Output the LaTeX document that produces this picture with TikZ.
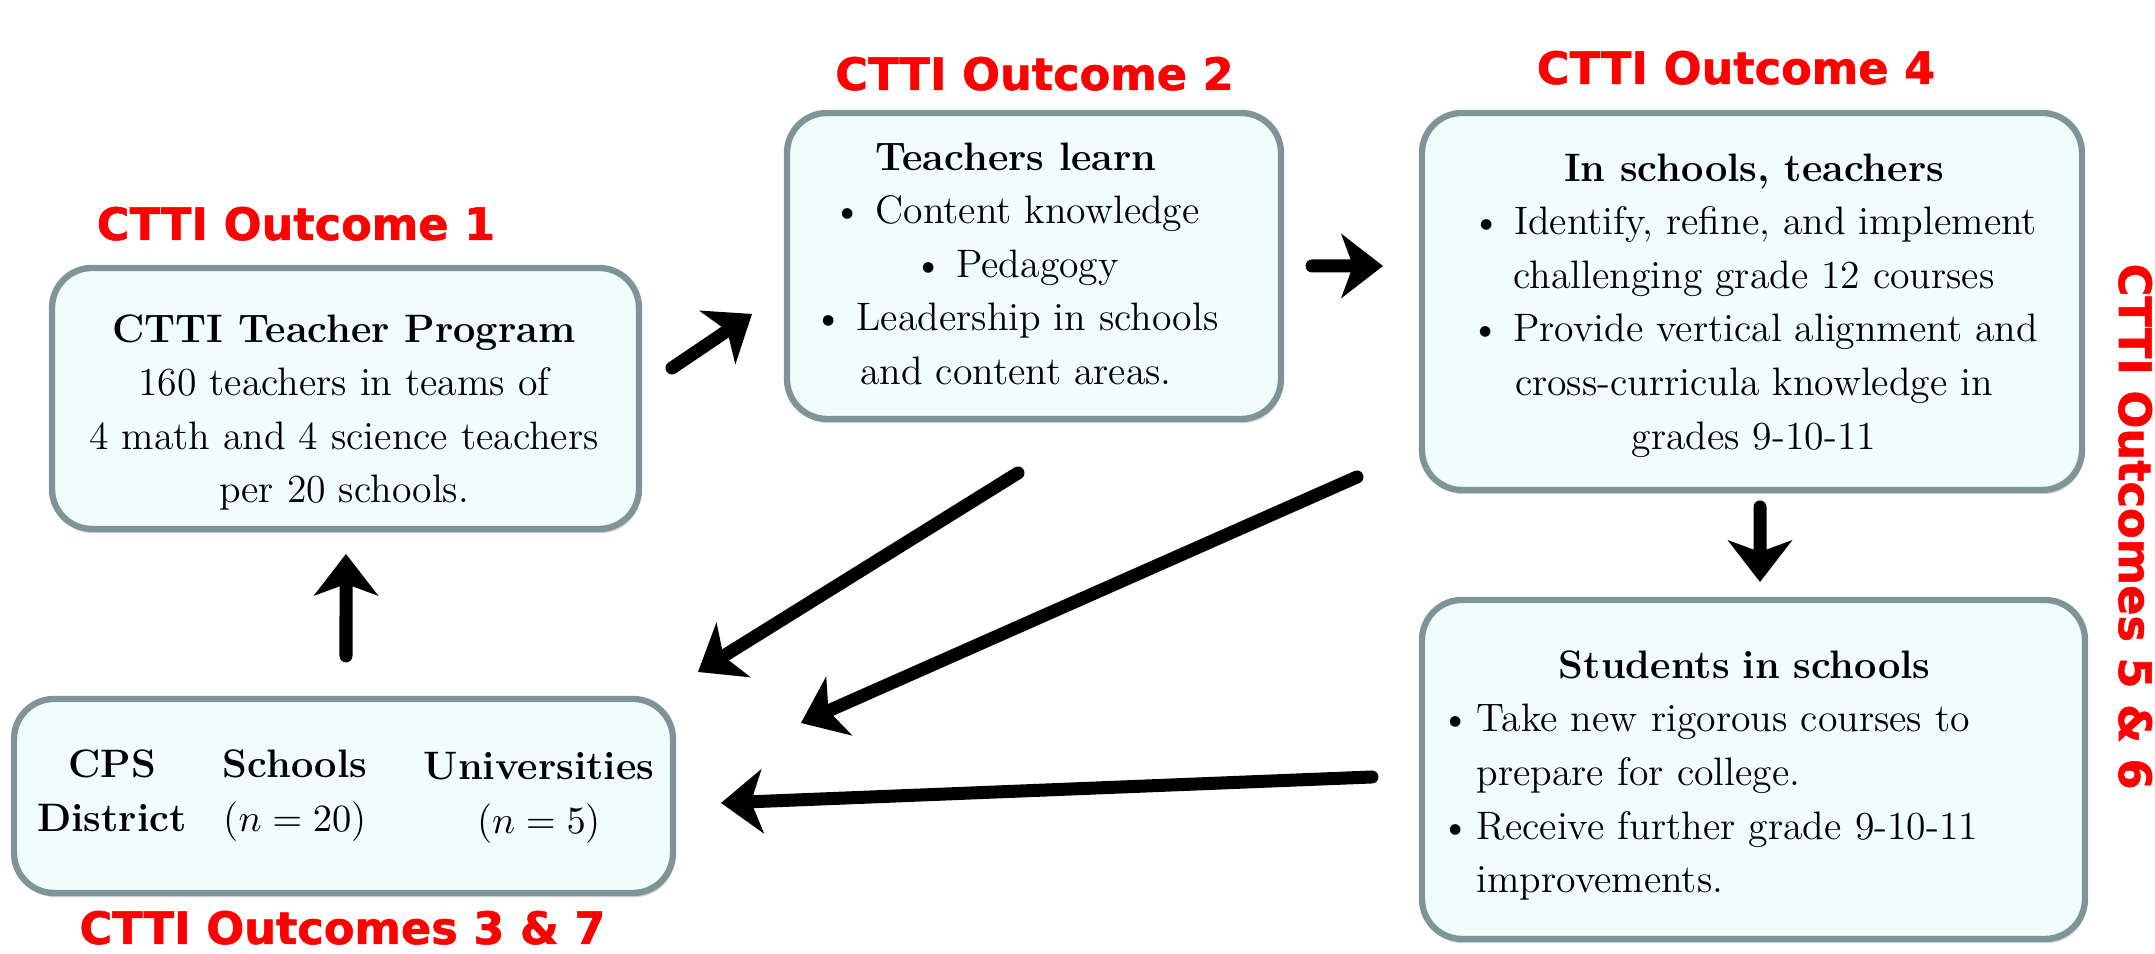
\documentclass[tikz,border=0pt]{standalone}
\usepackage{fontspec}
\usetikzlibrary{arrows.meta,shadows}
\newfontface\outcomefont{DejaVu Sans Bold}[FakeBold=1.2]
\definecolor{cardline}{RGB}{126,148,153}
\definecolor{cardfill}{RGB}{241,252,253}
\setlength{\parindent}{0pt}
\newlength{\itemgap}
\setlength{\itemgap}{0.36cm}
\newcommand{\itemdot}{\makebox[\itemgap][l]{\textbullet}}
\tikzset{
  card/.style={draw=cardline, line width=1.8pt, rounded corners=4mm, fill=cardfill,
    drop shadow={shadow xshift=0.5pt, shadow yshift=-1.2pt, opacity=0.35},
    inner sep=0pt, outer sep=0pt},
  txt/.style={inner sep=0pt, align=center, font={\fontsize{11.3}{15.25}\selectfont}},
  outcome/.style={inner sep=0pt, text=red, font={\outcomefont\fontsize{12.7}{15}\selectfont}},
  arr/.style={-{Stealth[length=4.2mm, width=6.5mm, inset=1.2mm, line width=0pt]}, line width=3.7pt, line cap=round}
}
\begin{document}
\begin{tikzpicture}
\useasboundingbox (0,0) rectangle (21.55,9.54);
%%%%%%%%%%%%%%%%%%%%%%%%%%%%%%% boxes
\node[card, minimum width=5.87cm, minimum height=2.61cm] (prog) at (3.455,5.555) {};
\node[card, minimum width=4.94cm, minimum height=3.06cm] (learn) at (10.34,6.88) {};
\node[card, minimum width=6.60cm, minimum height=3.77cm] (inschool) at (17.52,6.525) {};
\node[card, minimum width=6.63cm, minimum height=3.39cm] (students) at (17.535,1.845) {};
\node[card, minimum width=6.59cm, minimum height=1.94cm] (cps) at (3.435,1.58) {};
%%%%%%%%%%%%%%%%%%%%%%%%%%%%%%% box texts
\node[txt] (progtxt) at (3.44,5.415) {\textbf{CTTI Teacher Program}\\160 teachers in teams of\\4 math and 4 science teachers\\per 20 schools.};
\node[txt] (learntxt) at (10.16,6.903) {\textbf{Teachers learn}\\\textbullet\ Content knowledge\\\textbullet\ Pedagogy\\\textbullet\ Leadership in schools\\and content areas.};
\node[txt] (inschooltxt) at (17.54,6.485) {\textbf{In schools, teachers}\\\textbullet\ Identify, refine, and implement\\challenging grade 12 courses\\\textbullet\ Provide vertical alignment and\\cross-curricula knowledge in\\grades 9-10-11};
\node[txt, text width=6.08cm, align=left, anchor=west] (studentstxt) at (14.40,1.785) {{\centering\bfseries Students in schools\par}
\itemdot Take new rigorous courses to\par\hspace*{\itemgap}prepare for college.\par
\itemdot Receive further grade 9-10-11\par\hspace*{\itemgap}improvements.};
\node[txt] (cpstxt) at (1.12,1.633) {\textbf{CPS}\\\textbf{District}};
\node[txt] (schooltxt) at (2.95,1.584) {\textbf{Schools}\\($n = 20$)};
\node[txt] (unitxt) at (5.39,1.56) {\textbf{Universities}\\($n = 5$)};
%%%%%%%%%%%%%%%%%%%%%%%%%%%%%%% outcome labels
\node[outcome, anchor=base] (out1) at (2.96,7.14) {CTTI Outcome 1};
\node[outcome, anchor=base] (out2) at (10.345,8.64) {CTTI Outcome 2};
\node[outcome, anchor=base] (out4) at (17.36,8.70) {CTTI Outcome 4};
\node[outcome, anchor=base west, rotate=-90] (out56) at (21.19,6.91) {CTTI Outcomes 5 \& 6};
\node[outcome, anchor=base] (out37) at (3.425,0.1) {CTTI Outcomes 3 \& 7};
%%%%%%%%%%%%%%%%%%%%%%%%%%%%%%% arrows
\draw[arr] ([xshift=3.3mm,yshift=3.05mm]prog.east) -- ([xshift=-3.5mm,yshift=-4.8mm]learn.west);
\draw[arr] ([xshift=3.1mm]learn.east) -- ([xshift=-3.9mm,yshift=3.55mm]inschool.west);
\draw[arr] ([xshift=0.8mm,yshift=-1.7mm]inschool.south) -- ([xshift=0.65mm,yshift=1.8mm]students.north);
\draw[arr] ([xshift=0.25mm,yshift=4.3mm]cps.north) -- ([xshift=0.05mm,yshift=-2.5mm]prog.south);
\draw[arr] ([xshift=-1.6mm,yshift=-5.4mm]learn.south) -- ([xshift=2.5mm,yshift=2.7mm]cps.north east);
\draw[arr] ([xshift=-6.5mm,yshift=1.3mm]inschool.south west) -- ([xshift=12.8mm,yshift=-2.4mm]cps.north east);
\draw[arr] ([xshift=-5mm,yshift=-0.75mm]students.west) -- ([xshift=4.8mm,yshift=-0.7mm]cps.east);
\end{tikzpicture}
\end{document}
